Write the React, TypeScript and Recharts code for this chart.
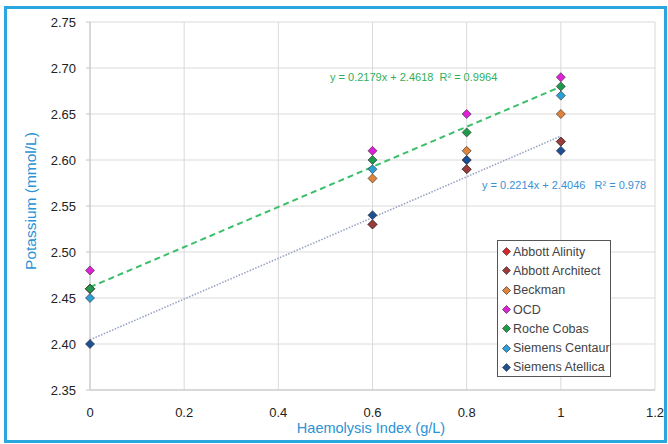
import { ScatterChart, Scatter, XAxis, YAxis, CartesianGrid } from "recharts";

const xValues = [0, 0.6, 0.8, 1];

const abbottAlinity = [2.46, 2.53, 2.59, 2.62];
const abbottArchitect = [2.46, 2.53, 2.59, 2.62];
const beckman = [2.46, 2.58, 2.61, 2.65];
const ocd = [2.48, 2.61, 2.65, 2.69];
const rocheCobas = [2.46, 2.6, 2.63, 2.68];
const siemensCentaur = [2.45, 2.59, 2.6, 2.67];
const siemensAtellica = [2.4, 2.54, 2.6, 2.61];

// linear trend end points (from the printed equations)
const trendX = [0, 1];
const rocheTrend = [2.4618, 2.6797];
const atellicaTrend = [2.4046, 2.626];

const xTicks = [0, 0.2, 0.4, 0.6, 0.8, 1, 1.2];
const yTicks = [2.35, 2.4, 2.45, 2.5, 2.55, 2.6, 2.65, 2.7, 2.75];

const series = [
  { name: "Abbott Alinity", values: abbottAlinity, color: "#d9262b" },
  { name: "Abbott Architect", values: abbottArchitect, color: "#9c3b3b" },
  { name: "Beckman", values: beckman, color: "#e0823a" },
  { name: "OCD", values: ocd, color: "#e020d8" },
  { name: "Roche Cobas", values: rocheCobas, color: "#1f9a4a" },
  { name: "Siemens Centaur", values: siemensCentaur, color: "#2a9fd8" },
  { name: "Siemens Atellica", values: siemensAtellica, color: "#1d4f96" },
];

const FONT = "'Liberation Sans', Arial, sans-serif";

function toPoints(xs: number[], ys: number[]) {
  return xs.map((x, i) => ({ x, y: ys[i] }));
}

function Diamond({ cx, cy, fill }: { cx?: number; cy?: number; fill: string }) {
  if (cx == null || cy == null) return <g />;
  const r = 4.5;
  return (
    <path
      d={`M${cx},${cy - r}L${cx + r},${cy}L${cx},${cy + r}L${cx - r},${cy}Z`}
      fill={fill}
      stroke="#3a3a3a"
      strokeWidth={0.7}
    />
  );
}

function LegendBox() {
  return (
    <div
      style={{
        position: "absolute",
        left: 497,
        top: 240,
        width: 114,
        height: 137,
        boxSizing: "border-box",
        border: "1px solid #555",
        background: "#fff",
        padding: "1px 0 0 4px",
        fontFamily: FONT,
        fontSize: 12.5,
        color: "#444",
      }}
    >
      {series.map((s) => (
        <div key={s.name} style={{ display: "flex", alignItems: "center", height: 19.3 }}>
          <svg width={9} height={9} style={{ marginRight: 2, flexShrink: 0 }}>
            <path d="M4.5,0.5L8.5,4.5L4.5,8.5L0.5,4.5Z" fill={s.color} stroke="#3a3a3a" strokeWidth={0.7} />
          </svg>
          <span style={{ whiteSpace: "nowrap" }}>{s.name}</span>
        </div>
      ))}
    </div>
  );
}

export default function App() {
  return (
    <div style={{ position: "absolute", left: 0, top: 0, width: 668, height: 444, background: "#fff" }}>
      <ScatterChart width={668} height={444} margin={{ top: 22, right: 13, left: 0, bottom: 0 }}>
        <CartesianGrid stroke="#dadada" strokeWidth={1} />
        <XAxis
          type="number"
          dataKey="x"
          domain={[0, 1.2]}
          ticks={xTicks}
          height={54}
          axisLine={{ stroke: "#c4c4c4" }}
          tickLine={false}
          tickMargin={12}
          tick={{ fontSize: 13, fill: "#222", fontFamily: FONT }}
        />
        <YAxis
          type="number"
          dataKey="y"
          domain={[2.35, 2.75]}
          ticks={yTicks}
          width={90}
          axisLine={{ stroke: "#c4c4c4" }}
          tickLine={{ stroke: "#c4c4c4" }}
          tickSize={4}
          tickMargin={10}
          tickFormatter={(v: number) => v.toFixed(2)}
          tick={{ fontSize: 13, fill: "#222", fontFamily: FONT }}
        />
        <Scatter
          data={toPoints(trendX, rocheTrend)}
          line={{ stroke: "#3cbf6a", strokeWidth: 2, strokeDasharray: "6 4" }}
          shape={() => <g />}
          legendType="none"
          isAnimationActive={false}
        />
        <Scatter
          data={toPoints(trendX, atellicaTrend)}
          line={{ stroke: "#98a4c4", strokeWidth: 1.6, strokeDasharray: "1.5 1.5" }}
          shape={() => <g />}
          legendType="none"
          isAnimationActive={false}
        />
        {series.map((s) => (
          <Scatter
            key={s.name}
            name={s.name}
            data={toPoints(xValues, s.values)}
            fill={s.color}
            shape={(p: any) => <Diamond cx={p.cx} cy={p.cy} fill={s.color} />}
            isAnimationActive={false}
          />
        ))}
      </ScatterChart>

      <LegendBox />

      <div
        style={{
          position: "absolute",
          left: 330,
          top: 71,
          fontFamily: FONT,
          fontSize: 11,
          color: "#2fae5c",
          whiteSpace: "pre",
        }}
      >
        {"y = 0.2179x + 2.4618  R² = 0.9964"}
      </div>
      <div
        style={{
          position: "absolute",
          left: 482,
          top: 179,
          fontFamily: FONT,
          fontSize: 11,
          color: "#3a8fd6",
          whiteSpace: "pre",
        }}
      >
        {"y = 0.2214x + 2.4046   R² = 0.978"}
      </div>
      <div
        style={{
          position: "absolute",
          left: 371,
          top: 428,
          transform: "translate(-50%, -50%)",
          fontFamily: FONT,
          fontSize: 14.5,
          color: "#2a93d5",
          whiteSpace: "nowrap",
        }}
      >
        Haemolysis Index (g/L)
      </div>
      <div
        style={{
          position: "absolute",
          left: 31,
          top: 201,
          transform: "translate(-50%, -50%) rotate(-90deg)",
          fontFamily: FONT,
          fontSize: 15.5,
          color: "#2a93d5",
          whiteSpace: "nowrap",
        }}
      >
        Potassium (mmol/L)
      </div>
      <div
        style={{
          position: "absolute",
          left: 4,
          top: 6,
          width: 657,
          height: 431,
          border: "3px solid #2ba7e0",
          pointerEvents: "none",
        }}
      />
    </div>
  );
}
